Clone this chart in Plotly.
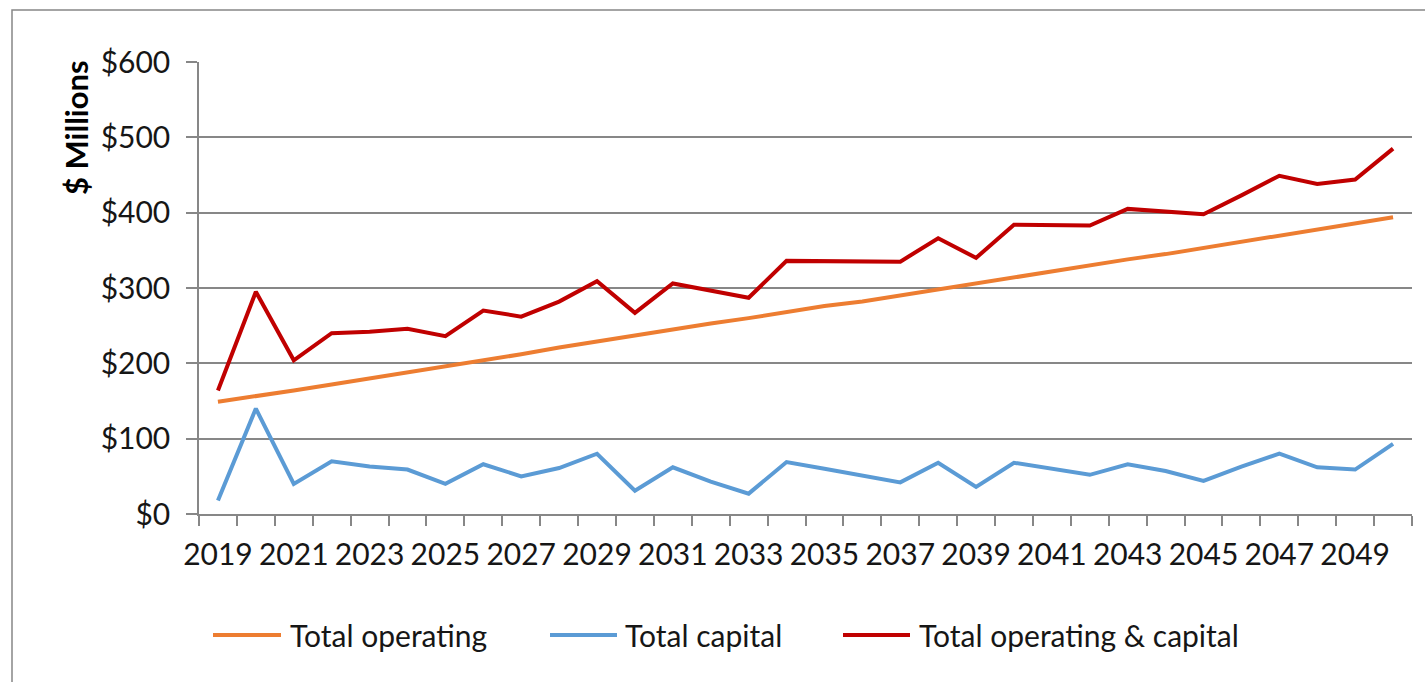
import plotly.graph_objects as go

# Annual totals, $ millions
years = list(range(2019, 2051))
total_operating = [149, 156, 164, 172, 180, 187, 195, 204, 212, 221, 229, 238,
                   245, 253, 260, 268, 276, 282, 290, 298, 306, 315, 322, 331,
                   338, 345, 353, 362, 370, 377, 386, 394]
total_capital = [18, 140, 40, 70, 63, 59, 40, 66, 50, 61, 80, 31,
                 62, 43, 27, 69, 60, 51, 42, 68, 36, 68, 60, 52,
                 66, 57, 44, 63, 80, 62, 59, 93]
total_combined = [164, 295, 204, 240, 242, 246, 236, 270, 262, 282, 309, 267,
                  306, 296, 287, 336, 336, 335, 335, 366, 340, 384, 384, 383,
                  405, 402, 398, 423, 449, 438, 444, 485]

series_names = ["Total operating", "Total capital", "Total operating & capital"]
series_colors = ["#ED7D31", "#5B9BD5", "#C00000"]
label_years = years[::2]

W, H = 1425, 682
ML, MR, MT, MB = 199, 13, 62, 168
PW, PH = W - ML - MR, H - MT - MB


def px_x(x):
    return (x - ML) / PW


def px_y(y):
    return (H - MB - y) / PH


FONT = "Lato, 'Open Sans', sans-serif"
GRAY = "#878787"
TEXT = "#161616"

fig = go.Figure()
for name, vals, col in zip(series_names,
                           [total_operating, total_capital, total_combined],
                           series_colors):
    fig.add_trace(go.Scatter(x=years, y=vals, name=name, mode="lines",
                             line=dict(color=col, width=4),
                             showlegend=False, hoverinfo="skip"))

fig.update_layout(
    width=W, height=H,
    margin=dict(l=ML, r=MR, t=MT, b=MB),
    paper_bgcolor="white", plot_bgcolor="white",
    font=dict(family=FONT, size=30, color=TEXT),
    xaxis=dict(
        range=[years[0] - 0.5, years[-1] + 0.5],
        tickmode="array", tickvals=label_years,
        ticktext=[str(y) for y in label_years],
        ticks="", showgrid=False, zeroline=False,
        showline=True, linecolor=GRAY, linewidth=1.5,
        ticklabelstandoff=13,
        tickfont=dict(family=FONT, size=30, color=TEXT),
        minor=dict(tick0=years[0] - 0.5, dtick=1, ticks="outside",
                   ticklen=10, tickcolor=GRAY, tickwidth=1.5, showgrid=False),
    ),
    yaxis=dict(
        range=[0, 600], tickmode="linear", tick0=0, dtick=100,
        tickprefix="$", showgrid=True, gridcolor=GRAY, gridwidth=1.5,
        zeroline=False, showline=True, linecolor=GRAY, linewidth=1.5,
        ticks="outside", ticklen=11, tickcolor=GRAY, tickwidth=1.5,
        ticklabelstandoff=10,
        tickfont=dict(family=FONT, size=30, color=TEXT),
    ),
)

# Outer chart frame
fig.add_shape(type="rect", xref="paper", yref="paper",
              x0=px_x(12), x1=px_x(1440), y0=px_y(700), y1=px_y(10),
              line=dict(color=GRAY, width=1.5), layer="below")

# Axis title
fig.add_annotation(text="<b>$ Millions</b>", xref="paper", yref="paper",
                   x=px_x(76), y=px_y(128), textangle=-90, showarrow=False,
                   font=dict(family=FONT, size=31, color="#000000"),
                   xanchor="center", yanchor="middle")

# Legend row
legend_keys = [(213, 281, 288), (550, 617, 623), (843, 910, 917)]
ly = 635
for (x0, x1, tx), name, col in zip(legend_keys, series_names, series_colors):
    fig.add_shape(type="line", xref="paper", yref="paper",
                  x0=px_x(x0), x1=px_x(x1), y0=px_y(ly), y1=px_y(ly),
                  line=dict(color=col, width=4))
    fig.add_annotation(text=name, xref="paper", yref="paper",
                       x=px_x(tx), y=px_y(ly), showarrow=False,
                       xanchor="left", yanchor="middle",
                       font=dict(family=FONT, size=30, color=TEXT))

fig.write_html("out.html")
